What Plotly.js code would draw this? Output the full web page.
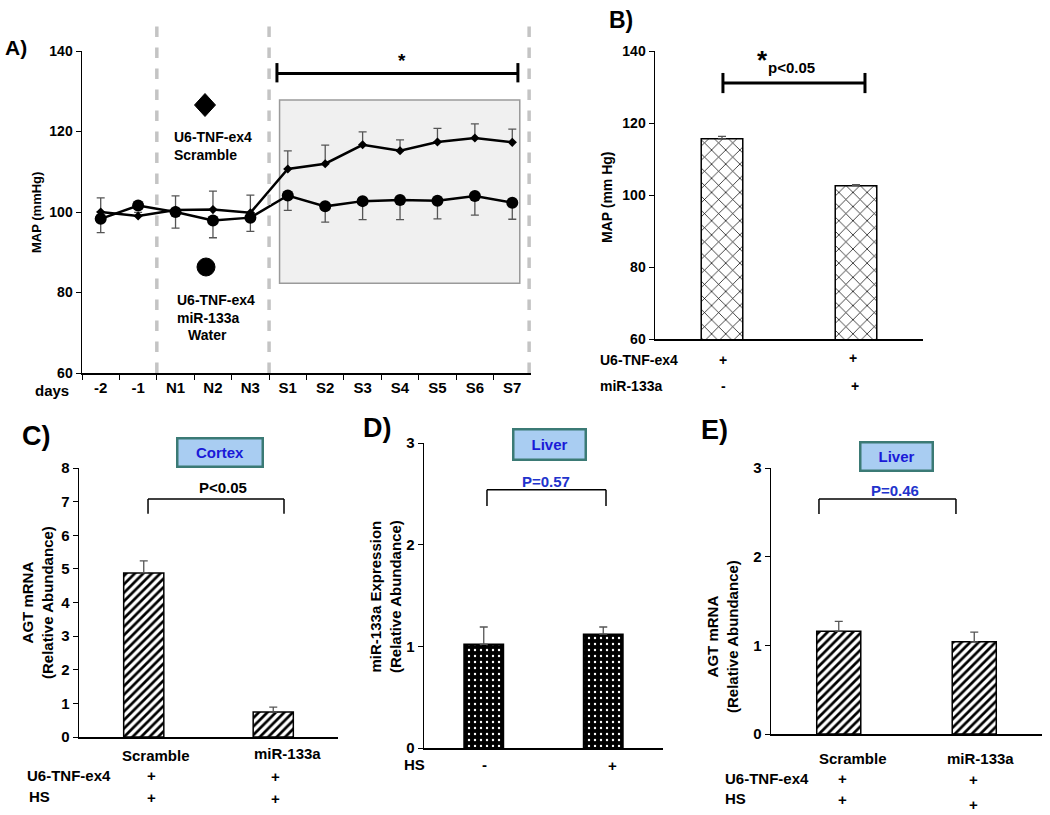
<!DOCTYPE html>
<html>
<head>
<meta charset="utf-8">
<script src="https://cdn.plot.ly/plotly-3.0.1.min.js"></script>
<style>
  body { margin: 0; background: white; }
  #fig { width: 1050px; height: 815px; }
</style>
</head>
<body>
<div id="fig"></div>
<script>
// Panel A - MAP over days
const days = ['-2', '-1', 'N1', 'N2', 'N3', 'S1', 'S2', 'S3', 'S4', 'S5', 'S6', 'S7'];
const mapScramble = [100.0, 99.0, 100.5, 100.6, 99.8, 110.7, 112.0, 116.7, 115.2, 117.4, 118.4, 117.3];
const errScramble = [3.5, 0.9, 3.5, 4.6, 4.4, 4.5, 4.6, 3.2, 2.7, 3.4, 3.5, 3.3];
const mapMiR = [98.3, 101.6, 100.0, 97.9, 98.6, 104.1, 101.4, 102.7, 103.0, 102.8, 104.0, 102.3];
const errMiR = [3.4, 0.9, 4.0, 4.3, 3.4, 3.7, 3.9, 4.6, 4.9, 4.5, 4.8, 4.1];

// Panel B - mean MAP
const groupsB = ['Scramble', 'miR-133a'];
const mapB = [115.6, 102.6];
const errB = [0.7, 0.3];

// Panel C - cortex AGT mRNA
const groupsC = ['Scramble', 'miR-133a'];
const agtCortex = [4.88, 0.74];
const errCortex = [0.36, 0.15];

// Panel D - liver miR-133a expression
const groupsD = ['Water', 'HS'];
const mirLiver = [1.02, 1.12];
const errMirLiver = [0.17, 0.07];

// Panel E - liver AGT mRNA
const groupsE = ['Scramble', 'miR-133a'];
const agtLiver = [1.16, 1.04];
const errAgtLiver = [0.11, 0.11];

const W = 1050, H = 815;
const fx = p => p / W;
const fy = p => 1 - p / H;
const FONT = 'Liberation Sans, Arial, sans-serif';
const zeros = arr => arr.map(() => 0);

function errUp(arr) {
    return { type: 'data', symmetric: false, array: arr, arrayminus: zeros(arr), color: '#555', thickness: 1.3, width: 4 };
}

const data = [
    {
        type: 'scatter', mode: 'lines+markers', x: days, y: mapScramble,
        line: { color: 'black', width: 2.5 },
        marker: { symbol: 'diamond', size: 7, color: 'black' },
        error_y: errUp(errScramble),
        xaxis: 'x', yaxis: 'y'
    },
    {
        type: 'scatter', mode: 'lines+markers', x: days, y: mapMiR,
        line: { color: 'black', width: 2.5 },
        marker: { symbol: 'circle', size: 12, color: 'black' },
        error_y: { type: 'data', symmetric: false, array: zeros(errMiR), arrayminus: errMiR, color: '#555', thickness: 1.3, width: 4 },
        xaxis: 'x', yaxis: 'y'
    },
    {
        type: 'bar', x: groupsB, y: mapB, width: 0.31, xaxis: 'x2', yaxis: 'y2',
        marker: { color: 'white', line: { color: 'black', width: 1.5 },
                  pattern: { shape: 'x', size: 10, solidity: 0.14, fgcolor: 'black', bgcolor: 'white' } },
        error_y: errUp(errB)
    },
    {
        type: 'bar', x: groupsC, y: agtCortex, width: 0.31, xaxis: 'x3', yaxis: 'y3',
        marker: { color: 'white', line: { color: 'black', width: 1.5 },
                  pattern: { shape: '/', size: 6, solidity: 0.45, fgcolor: 'black', bgcolor: 'white' } },
        error_y: errUp(errCortex)
    },
    {
        type: 'bar', x: groupsD, y: mirLiver, width: 0.33, xaxis: 'x4', yaxis: 'y4',
        marker: { color: 'black', line: { color: 'black', width: 1.5 },
                  pattern: { shape: '.', size: 6, solidity: 0.12, fgcolor: 'white', bgcolor: 'black' } },
        error_y: errUp(errMirLiver)
    },
    {
        type: 'bar', x: groupsE, y: agtLiver, width: 0.325, xaxis: 'x5', yaxis: 'y5',
        marker: { color: 'white', line: { color: 'black', width: 1.5 },
                  pattern: { shape: '/', size: 6, solidity: 0.45, fgcolor: 'black', bgcolor: 'white' } },
        error_y: errUp(errAgtLiver)
    }
];

function xAxis(x0, x1, anchor, extra) {
    return Object.assign({
        domain: [fx(x0), fx(x1)], anchor: anchor, type: 'category',
        showline: true, linecolor: 'black', linewidth: 1.5,
        showgrid: false, zeroline: false, ticks: '', showticklabels: false,
        range: [-0.5, 1.5], fixedrange: true
    }, extra || {});
}
function yAxis(y0, y1, anchor, range, dtick, size) {
    return {
        domain: [fy(y1), fy(y0)], anchor: anchor, range: range, dtick: dtick,
        showline: true, linecolor: 'black', linewidth: 1.5,
        showgrid: false, zeroline: false, ticks: 'outside', ticklen: 5, tickcolor: 'black',
        tickfont: { family: FONT, size: size, color: 'black', weight: 'bold' }, fixedrange: true
    };
}

function txt(text, x, y, size, extra) {
    return Object.assign({
        text: text, x: fx(x), y: fy(y), xref: 'paper', yref: 'paper', showarrow: false,
        xanchor: 'center', yanchor: 'middle',
        font: { family: FONT, size: size, color: 'black', weight: 'bold' }
    }, extra || {});
}
function ytitle(text, x, y, size) {
    return txt(text, x, y, size, { textangle: -90 });
}
function tissue(text, cx, cy, w, h) {
    return txt(text, cx, cy, 15, {
        bgcolor: '#a9cdf2', bordercolor: '#3b7a75', borderwidth: 2.5, borderpad: 0,
        width: w - 5, height: h - 5,
        font: { family: FONT, size: 15, color: '#1a1ad8', weight: 'bold' }
    });
}

const annotations = [
    // panel letters
    txt('A)', 16, 47, 21), txt('B)', 621, 20, 23), txt('C)', 36, 436, 27),
    txt('D)', 377, 428, 27), txt('E)', 714, 430, 27),
    // axis titles
    ytitle('MAP (mmHg)', 36, 213, 13),
    ytitle('MAP (mm Hg)', 607, 197, 14),
    ytitle('AGT mRNA<br>(Relative Abundance)', 37, 603, 15),
    ytitle('miR-133a Expression<br>(Relative Abundance)', 385, 597, 15),
    ytitle('AGT mRNA<br>(Relative Abundance)', 722, 637, 15),
    // panel A extras
    txt('days', 52, 390, 15),
    txt('*', 402, 60, 19),
    txt('U6-TNF-ex4<br>Scramble', 172, 146, 14, { xanchor: 'left', align: 'left' }),
    txt('U6-TNF-ex4<br>miR-133a', 175, 309, 14, { xanchor: 'left', align: 'left' }),
    txt('Water', 207, 335, 14),
    // panel B extras
    txt('*', 762, 60, 26),
    txt('p&lt;0.05', 791, 68, 15),
    txt('U6-TNF-ex4', 598, 360, 14, { xanchor: 'left' }),
    txt('+', 723, 360, 14), txt('+', 853, 358, 14),
    txt('miR-133a', 598, 386, 14, { xanchor: 'left' }),
    txt('-', 723, 386, 14), txt('+', 855, 386, 14),
    // panel C extras
    tissue('Cortex', 220, 452.5, 88, 31),
    txt('P&lt;0.05', 223, 487, 15),
    txt('Scramble', 156, 755, 15), txt('miR-133a', 287, 753, 15),
    txt('U6-TNF-ex4', 25, 775, 15, { xanchor: 'left' }),
    txt('+', 151, 775, 15), txt('+', 275, 776, 15),
    txt('HS', 27, 796, 15, { xanchor: 'left' }),
    txt('+', 151, 797, 15), txt('+', 275, 798, 15),
    // panel D extras
    tissue('Liver', 549.5, 444.5, 75, 33),
    txt('P=0.57', 546, 481, 15, { font: { family: FONT, size: 15, color: '#2233cc', weight: 'bold' } }),
    txt('HS', 402, 764, 15, { xanchor: 'left' }),
    txt('-', 484, 764, 15), txt('+', 612, 765, 15),
    // panel E extras
    tissue('Liver', 896.5, 456.5, 75, 31),
    txt('P=0.46', 895, 491, 15, { font: { family: FONT, size: 15, color: '#2233cc', weight: 'bold' } }),
    txt('Scramble', 853, 758, 15), txt('miR-133a', 980, 758, 15),
    txt('U6-TNF-ex4', 723, 778, 15, { xanchor: 'left' }),
    txt('+', 842, 778, 15), txt('+', 973, 779, 15),
    txt('HS', 723, 798, 15, { xanchor: 'left' }),
    txt('+', 842, 799, 15), txt('+', 973, 804, 15)
];

function seg(xref, yref, x0, y0, x1, y1, width, color, dash) {
    return { type: 'line', xref: xref, yref: yref, x0: x0, y0: y0, x1: x1, y1: y1,
             line: { color: color || 'black', width: width, dash: dash || 'solid' } };
}
function bracket(xref, yref, x0, x1, y, yEnd, width) {
    return [seg(xref, yref, x0, y, x1, y, width),
            seg(xref, yref, x0, y, x0, yEnd, width),
            seg(xref, yref, x1, y, x1, yEnd, width)];
}

const shapes = [
    // shaded salt period in panel A
    { type: 'rect', xref: 'x', yref: 'y', x0: 4.78, x1: 11.2, y0: 82.3, y1: 127.8, layer: 'below',
      fillcolor: '#f0f0f0', line: { color: '#9a9a9a', width: 1.5 } },
    // phase separators
    seg('x', 'paper', 1.5, fy(373), 1.5, fy(22), 3.5, '#c4c4c4', 'dash'),
    seg('x', 'paper', 4.5, fy(373), 4.5, fy(22), 3.5, '#c4c4c4', 'dash'),
    seg('x', 'paper', 11.45, fy(373), 11.45, fy(22), 3.5, '#c4c4c4', 'dash'),
    // significance bar A
    seg('x', 'y', 4.71, 134.4, 11.15, 134.4, 3),
    seg('x', 'y', 4.71, 132.2, 4.71, 137.0, 3),
    seg('x', 'y', 11.15, 132.2, 11.15, 137.0, 3),
    // significance bar B
    seg('x2', 'y2', 0.007, 131.1, 1.067, 131.1, 3),
    seg('x2', 'y2', 0.007, 128.3, 0.007, 133.9, 3),
    seg('x2', 'y2', 1.067, 128.3, 1.067, 133.9, 3),
    // legend glyphs in panel A
    { type: 'path', xref: 'paper', yref: 'paper', xsizemode: 'pixel', ysizemode: 'pixel',
      xanchor: fx(205), yanchor: fy(105), path: 'M 0 11.5 L 10.5 0 L 0 -11.5 L -10.5 0 Z',
      fillcolor: 'black', line: { color: 'black', width: 1 } },
    { type: 'circle', xref: 'paper', yref: 'paper', xsizemode: 'pixel', ysizemode: 'pixel',
      xanchor: fx(206), yanchor: fy(267), x0: -9, x1: 9, y0: -9, y1: 9,
      fillcolor: 'black', line: { color: 'black', width: 1 } }
].concat(
    bracket('x3', 'y3', 0.033, 1.083, 7.08, 6.64, 1.5),
    bracket('x4', 'y4', 0.027, 1.023, 2.54, 2.38, 1.5),
    bracket('x5', 'y5', -0.146, 0.865, 2.65, 2.48, 1.5)
);

const layout = {
    width: W, height: H,
    margin: { l: 0, r: 0, t: 0, b: 0 },
    paper_bgcolor: 'white', plot_bgcolor: 'rgba(0,0,0,0)',
    showlegend: false,
    font: { family: FONT, color: 'black' },
    xaxis: xAxis(82, 531, 'y', {
        range: [-0.5, 11.5], showticklabels: true, ticks: 'outside', tickson: 'boundaries',
        ticklen: 5, tickcolor: 'black',
        tickfont: { family: FONT, size: 15, color: 'black', weight: 'bold' }
    }),
    yaxis: yAxis(51, 373, 'x', [60, 140], 20, 14),
    xaxis2: xAxis(655, 923, 'y2'),
    yaxis2: yAxis(51, 339, 'x2', [60, 140], 20, 14),
    xaxis3: xAxis(79, 338, 'y3'),
    yaxis3: yAxis(468, 737, 'x3', [0, 8], 1, 15),
    xaxis4: xAxis(424, 663, 'y4'),
    yaxis4: yAxis(443, 748, 'x4', [0, 3], 1, 15),
    xaxis5: xAxis(771, 1042, 'y5'),
    yaxis5: yAxis(468, 734, 'x5', [0, 3], 1, 15),
    annotations: annotations,
    shapes: shapes
};

Plotly.newPlot('fig', data, layout, { displayModeBar: false, staticPlot: true });
</script>
</body>
</html>
